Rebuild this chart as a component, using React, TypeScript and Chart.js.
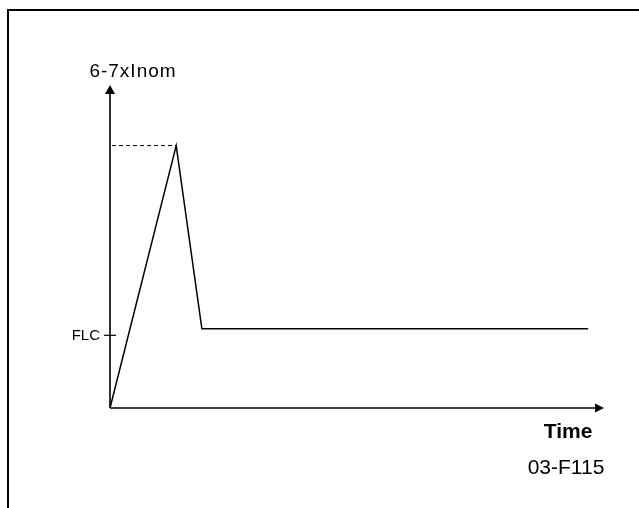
import React, { useEffect, useRef } from "react";
import { Chart, registerables } from "chart.js";

Chart.register(...registerables);

// Time axis (arbitrary units) and current (multiples of nominal current)
const timeValues = [0, 13.4, 18.6, 96.8];
const currentValues = [0, 6.5, 1.96, 1.96];
const peakRefTime = [0.4, 13.4];
const peakRefCurrent = [6.5, 6.5];
const flcLevel = 1.8;
const yAxisLabel = "6-7xInom";
const xAxisLabel = "Time";
const figureId = "03-F115";
const flcLabel = "FLC";

const FONT = "'Liberation Sans', Arial, sans-serif";

const decorPlugin = {
  id: "decor",
  beforeDatasetsDraw(chart: any) {
    const ctx = chart.ctx;
    const xs = chart.scales.x;
    const ys = chart.scales.y;
    const x0 = xs.getPixelForValue(0);
    const y0 = ys.getPixelForValue(0);
    const xEnd = xs.getPixelForValue(xs.max);
    const yTop = ys.getPixelForValue(ys.max);
    ctx.save();
    // frame
    ctx.strokeStyle = "#000";
    ctx.lineWidth = 2;
    ctx.beginPath();
    ctx.moveTo(8, chart.height);
    ctx.lineTo(8, 10);
    ctx.lineTo(chart.width + 2, 10);
    ctx.stroke();

    // axes
    ctx.lineWidth = 1.6;
    ctx.beginPath();
    ctx.moveTo(x0, y0);
    ctx.lineTo(x0, yTop + 7);
    ctx.moveTo(x0, y0);
    ctx.lineTo(xEnd - 7, y0);
    ctx.stroke();
    ctx.fillStyle = "#000";
    ctx.beginPath();
    ctx.moveTo(x0, yTop);
    ctx.lineTo(x0 - 5, yTop + 9);
    ctx.lineTo(x0 + 5, yTop + 9);
    ctx.closePath();
    ctx.fill();
    ctx.beginPath();
    ctx.moveTo(xEnd, y0);
    ctx.lineTo(xEnd - 9, y0 - 4.5);
    ctx.lineTo(xEnd - 9, y0 + 4.5);
    ctx.closePath();
    ctx.fill();

    // FLC tick
    const yf = ys.getPixelForValue(flcLevel);
    ctx.lineWidth = 1.2;
    ctx.beginPath();
    ctx.moveTo(x0 - 6, yf);
    ctx.lineTo(x0 + 6, yf);
    ctx.stroke();

    // texts
    ctx.fillStyle = "#000";
    ctx.textBaseline = "middle";
    ctx.textAlign = "right";
    ctx.font = `15px ${FONT}`;
    ctx.fillText(flcLabel, x0 - 10, yf + 1);

    ctx.textAlign = "center";
    ctx.font = `19px ${FONT}`;
    (ctx as any).letterSpacing = "1px";
    ctx.fillText(yAxisLabel, x0 + 23, yTop - 13);
    (ctx as any).letterSpacing = "0px";

    ctx.font = `bold 21px ${FONT}`;
    ctx.fillText(xAxisLabel, xEnd - 36, y0 + 24);

    ctx.font = `21px ${FONT}`;
    ctx.fillText(figureId, xEnd - 38, y0 + 60);
    ctx.restore();
  },
};

export default function App() {
  const ref = useRef<HTMLCanvasElement | null>(null);
  useEffect(() => {
    if (!ref.current) return;
    const chart = new Chart(ref.current, {
      type: "line",
      data: {
        datasets: [
          {
            data: timeValues.map((t, i) => ({ x: t, y: currentValues[i] })),
            borderColor: "#000",
            borderWidth: 1.5,
            pointRadius: 0,
            tension: 0,
            clip: false as any,
          },
          {
            data: peakRefTime.map((t, i) => ({ x: t, y: peakRefCurrent[i] })),
            borderColor: "#000",
            borderWidth: 1,
            borderDash: [4, 3],
            pointRadius: 0,
            clip: false as any,
          },
        ],
      },
      options: {
        animation: false,
        responsive: false,
        layout: { padding: { left: 110, right: 35, top: 85, bottom: 100 } },
        plugins: { legend: { display: false }, tooltip: { enabled: false } },
        scales: {
          x: { type: "linear", min: 0, max: 100, display: false },
          y: { type: "linear", min: 0, max: 8, display: false },
        },
      },
      plugins: [decorPlugin],
    });
    return () => chart.destroy();
  }, []);
  return (
    <div style={{ position: "fixed", left: 0, top: 0, width: 639, height: 508, background: "#fff" }}>
      <canvas ref={ref} width={639} height={508} />
    </div>
  );
}
